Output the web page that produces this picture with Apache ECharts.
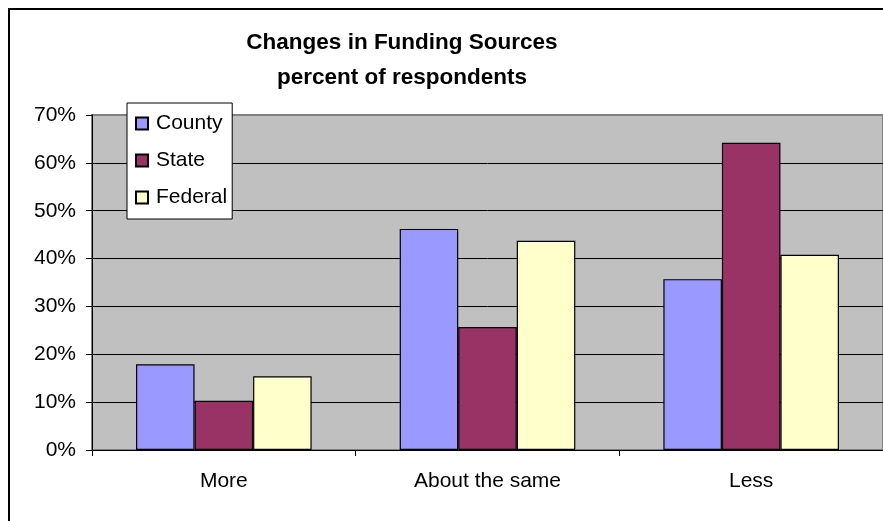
<!DOCTYPE html>
<html>
<head>
<meta charset="utf-8">
<script src="https://cdn.jsdelivr.net/npm/echarts@6/dist/echarts.min.js"></script>
<style>
  html, body { margin: 0; padding: 0; background: #fff; }
  #chart { width: 883px; height: 521px; }
</style>
</head>
<body>
<div id="chart"></div>
<script>
// Survey answers: how each funding source changed (percent of respondents)
const categories = ['More', 'About the same', 'Less'];
const county  = [17.9, 46.2, 35.7];
const state   = [10.3, 25.7, 64.2];
const federal = [15.4, 43.7, 40.8];
const yTicks  = { min: 0, max: 70, step: 10 };

const FONT = '"Liberation Sans", Arial, sans-serif';
const LABEL_SIZE = 21;

const chart = echarts.init(document.getElementById('chart'), null, { renderer: 'canvas' });

function barSeries(name, data, color) {
  return {
    name: name,
    type: 'bar',
    data: data,
    barGap: '0%',
    barCategoryGap: '33.4%',
    itemStyle: { color: color, borderColor: '#000', borderWidth: 1.2 },
    emphasis: { disabled: true }
  };
}

chart.setOption({
  animation: false,
  backgroundColor: '#fff',
  textStyle: { fontFamily: FONT },
  graphic: [{
    type: 'rect',
    shape: { x: 9, y: 9, width: 900, height: 540 },
    style: { fill: 'none', stroke: '#000', lineWidth: 2 },
    z: 100
  }],
  title: {
    text: 'Changes in Funding Sources\npercent of respondents',
    left: 402,
    top: 25,
    textAlign: 'center',
    padding: 0,
    textStyle: {
      fontFamily: FONT,
      fontWeight: 'bold',
      fontSize: 22.5,
      lineHeight: 35,
      color: '#000'
    }
  },
  legend: {
    orient: 'vertical',
    left: 127,
    top: 103,
    padding: [10, 5, 11, 8],
    backgroundColor: '#fff',
    borderColor: '#000',
    borderWidth: 1,
    itemWidth: 12,
    itemHeight: 12,
    itemGap: 16,
    icon: 'rect',
    textStyle: { fontFamily: FONT, fontSize: LABEL_SIZE, lineHeight: 20, color: '#000', padding: [0, 0, 0, 3] },
    data: ['County', 'State', 'Federal']
  },
  grid: {
    left: 92,
    right: -6,
    top: 115,
    bottom: 71,
    show: true,
    backgroundColor: '#C0C0C0',
    borderColor: '#808080',
    borderWidth: 2
  },
  xAxis: {
    type: 'category',
    data: categories,
    axisLine: { lineStyle: { color: '#000', width: 1 } },
    axisTick: { show: true, length: 6, lineStyle: { color: '#000' } },
    axisLabel: { fontFamily: FONT, fontSize: LABEL_SIZE, color: '#000', margin: 21 },
    splitLine: { show: false }
  },
  yAxis: {
    type: 'value',
    min: yTicks.min,
    max: yTicks.max,
    interval: yTicks.step,
    axisLine: { show: true, lineStyle: { color: '#000', width: 1 } },
    axisTick: { show: true, length: 6, lineStyle: { color: '#000' } },
    axisLabel: { fontFamily: FONT, fontSize: LABEL_SIZE, color: '#000', margin: 16, formatter: '{value}%' },
    splitLine: {
      show: true,
      lineStyle: {
        color: ['#000', '#000', '#000', '#000', '#000', '#000', '#000', '#808080'],
        width: 1
      }
    }
  },
  series: [
    barSeries('County', county, '#9999FF'),
    barSeries('State', state, '#993366'),
    barSeries('Federal', federal, '#FFFFCC')
  ]
});
</script>
</body>
</html>
